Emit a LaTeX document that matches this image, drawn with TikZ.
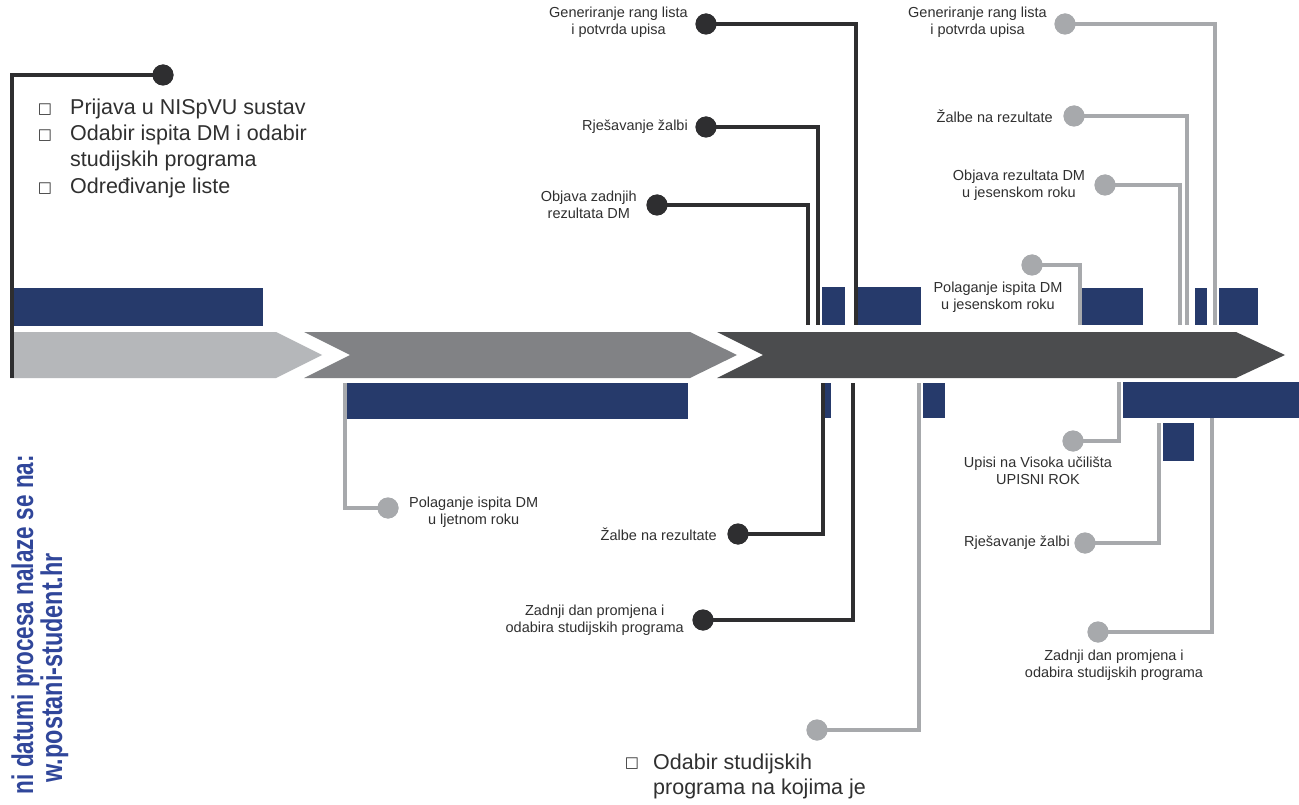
\documentclass[tikz,border=0pt]{standalone}
\usepackage{fontspec}
\setmainfont{Liberation Sans}
\newfontfamily\symfont{DejaVu Sans}
\usepackage{graphicx}
\definecolor{navy}{HTML}{263A6B}
\definecolor{dk}{HTML}{2E2E30}
\definecolor{gr}{HTML}{A7A9AC}
\definecolor{arA}{HTML}{B5B7BA}
\definecolor{arB}{HTML}{818285}
\definecolor{arC}{HTML}{4B4C4E}
\definecolor{txt}{HTML}{303030}
\definecolor{urlblue}{HTML}{30469A}
\begin{document}
\begin{tikzpicture}[x=1pt,y=-1pt,
 darkline/.style={draw=dk,line width=4pt},
 grayline/.style={draw=gr,line width=4.5pt},
 darkdot/.style={circle,fill=dk,minimum size=21pt,inner sep=0pt},
 graydot/.style={circle,fill=gr,minimum size=21pt,inner sep=0pt},
 lbl/.style={font=\fontsize{14.5}{17}\selectfont,text=txt,align=center,inner sep=0pt},
 bigtext/.style={font=\fontsize{21.5}{26}\selectfont,text=txt,inner sep=0pt},
 bul/.style={font=\symfont\fontsize{15}{15}\selectfont,text=txt,inner sep=0pt},
 bar/.style={fill=navy},
 vtext/.style={font=\fontsize{30}{30}\selectfont\bfseries,text=urlblue,inner sep=0pt,rotate=90}
]
\useasboundingbox (0,0) rectangle (1299,805);
\fill[white] (0,0) rectangle (1299,805);

% timeline arrows
\fill[arA] (10,332) -- (276,332) -- (322,355) -- (276,378) -- (10,378) -- cycle;
\fill[arB] (304,332) -- (690,332) -- (737,355) -- (690,378) -- (304,378) -- (350,355) -- cycle;
\fill[arC] (717,332) -- (1236,332) -- (1285,355) -- (1236,378) -- (717,378) -- (763,355) -- cycle;

% period bars
\fill[bar] (10,288) rectangle (263,326);
\fill[bar] (347,383) rectangle (688,419);
\fill[bar] (822,287) rectangle (845,325);
\fill[bar] (857,287) rectangle (921,325);
\fill[bar] (823,383) rectangle (831,418);
\fill[bar] (923,383) rectangle (945,418);
\fill[bar] (1082,288) rectangle (1143,325);
\fill[bar] (1195,288) rectangle (1207,325);
\fill[bar] (1219,288) rectangle (1258,325);
\fill[bar] (1123,382) rectangle (1299,418);
\fill[bar] (1163,423) rectangle (1194,461);

% end points of connectors
\coordinate (e0) at (12,378);
\coordinate (eg) at (856,325);
\coordinate (er) at (818,325);
\coordinate (eo) at (808,325);
\coordinate (ez) at (823,383);
\coordinate (ezd) at (853,383);
\coordinate (egp) at (345,383);
\coordinate (ego) at (919,383);
\coordinate (egg) at (1215,325);
\coordinate (egz) at (1187,325);
\coordinate (egob) at (1180,325);
\coordinate (egpj) at (1080,325);
\coordinate (egu) at (1119,382);
\coordinate (egr) at (1159,423);
\coordinate (egzd) at (1212,418);

% dots
\node[darkdot] (d0) at (163,75) {};
\node[darkdot] (dg) at (706,24) {};
\node[darkdot] (dr) at (706,127) {};
\node[darkdot] (do) at (657,205) {};
\node[darkdot] (dz) at (738,534) {};
\node[darkdot] (dzd) at (703,620) {};
\node[graydot] (gp) at (388,508) {};
\node[graydot] (go) at (817,730) {};
\node[graydot] (gg) at (1065,24) {};
\node[graydot] (gz) at (1074,116) {};
\node[graydot] (gob) at (1105,185) {};
\node[graydot] (gpj) at (1032,265) {};
\node[graydot] (gu) at (1073,441) {};
\node[graydot] (grz) at (1085,543) {};
\node[graydot] (gzd) at (1098,632) {};

% connectors
\draw[darkline] (d0.center) -| (e0);
\draw[darkline] (dg.center) -| (eg);
\draw[darkline] (dr.center) -| (er);
\draw[darkline] (do.center) -| (eo);
\draw[darkline] (dz.center) -| (ez);
\draw[darkline] (dzd.center) -| (ezd);
\draw[grayline] (gp.center) -| (egp);
\draw[grayline] (go.center) -| (ego);
\draw[grayline] (gg.center) -| (egg);
\draw[grayline] (gz.center) -| (egz);
\draw[grayline] (gob.center) -| (egob);
\draw[grayline] (gpj.center) -| (egpj);
\draw[grayline] (gu.center) -| (egu);
\draw[grayline] (grz.center) -| (egr);
\draw[grayline] (gzd.center) -| (egzd);

% redraw dots over line starts
\foreach \n in {d0,dg,dr,do,dz,dzd} {\fill[dk] (\n) circle (10.5);}
\foreach \n in {gp,go,gg,gz,gob,gpj,gu,grz,gzd} {\fill[gr] (\n) circle (10.5);}

% labels
\node[lbl,anchor=east] (lg) at (688,22) {Generiranje rang lista\\i potvrda upisa};
\node[lbl,anchor=east] (lr) at (688,127) {Rješavanje žalbi};
\node[lbl,anchor=east] (lo) at (637,205) {Objava zadnjih\\rezultata DM};
\node[lbl,anchor=east] (lz) at (717,534) {Žalbe na rezultate};
\node[lbl,anchor=east] (lzd) at (684,620) {Zadnji dan promjena i\\odabira studijskih programa};
\node[lbl,anchor=west] (lp) at (409,512) {Polaganje ispita DM\\u ljetnom roku};
\node[lbl,anchor=east] (lgg) at (1047,22) {Generiranje rang lista\\i potvrda upisa};
\node[lbl,anchor=east] (lgz) at (1053,116) {Žalbe na rezultate};
\node[lbl] (lgo) at (1019,185) {Objava rezultata DM\\u jesenskom roku};
\node[lbl] (lgp) at (998,297) {Polaganje ispita DM\\u jesenskom roku};
\node[lbl] (lgu) at (1038,471) {Upisi na Visoka učilišta\\UPISNI ROK};
\node[lbl,anchor=east] (lgr) at (1070,543) {Rješavanje žalbi};
\node[lbl] (lgzd) at (1114,665) {Zadnji dan promjena i\\odabira studijskih programa};

% bullet lists
\node[bul] (b1) at (45,110) {□};
\node[bul] (b2) at (45,136) {□};
\node[bul] (b4) at (45,189) {□};
\node[bigtext,anchor=base west] (t1) at (70,115) {Prijava u NISpVU sustav};
\node[bigtext,anchor=base west] (t2) at (70,141) {Odabir ispita DM i odabir};
\node[bigtext,anchor=base west] (t3) at (70,167) {studijskih programa};
\node[bigtext,anchor=base west] (t4) at (70,194) {Određivanje liste};
\node[bul] (b5) at (632,764) {□};
\node[bigtext,anchor=base west] (t5) at (653,769) {Odabir studijskih};
\node[bigtext,anchor=base west] (t6) at (653,794) {programa na kojima je};

% vertical note
\node[vtext,anchor=base east] (v1) at (33,455) {\scalebox{0.75}[1]{ni datumi procesa nalaze se na:}};
\node[vtext,anchor=base east] (v2) at (62,553) {\scalebox{0.78}[1]{w.postani-student.hr}};
\end{tikzpicture}
\end{document}
